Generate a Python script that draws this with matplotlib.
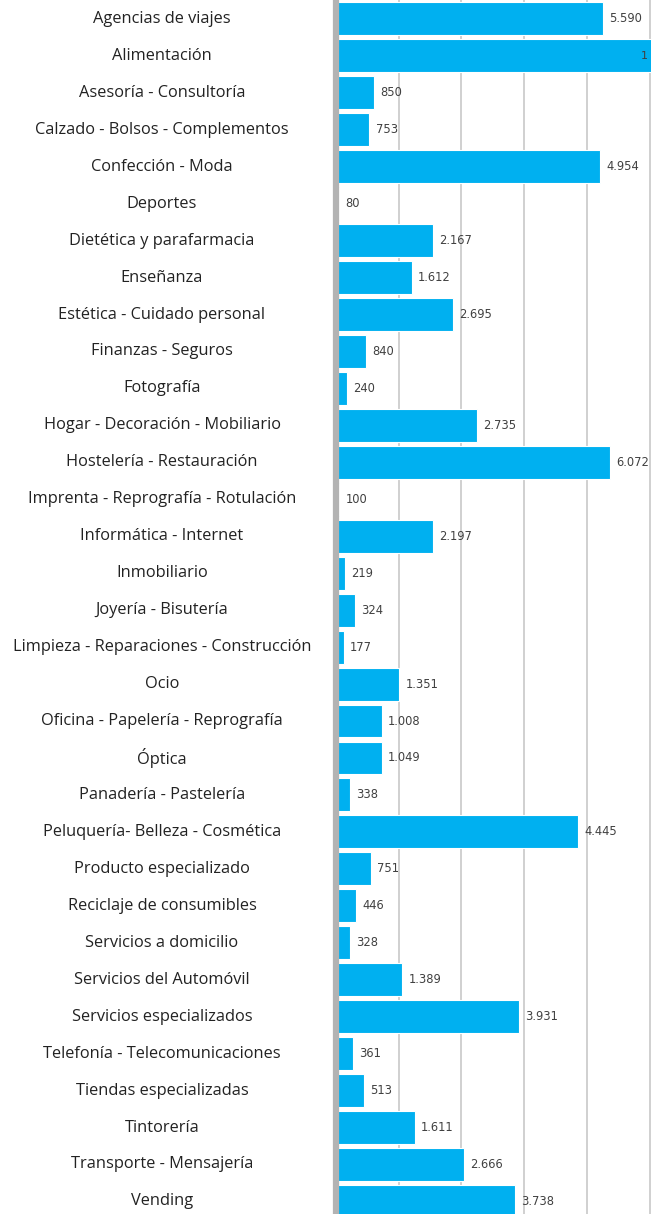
import matplotlib.pyplot as plt
import matplotlib.transforms as mtransforms
import numpy as np

# categorias, de arriba a abajo
categorias = [
    'Agencias de viajes', 'Alimentación', 'Asesoría - Consultoría',
    'Calzado - Bolsos - Complementos', 'Confección - Moda', 'Deportes',
    'Dietética y parafarmacia', 'Enseñanza', 'Estética - Cuidado personal',
    'Finanzas - Seguros', 'Fotografía', 'Hogar - Decoración - Mobiliario',
    'Hostelería - Restauración', 'Imprenta - Reprografía - Rotulación',
    'Informática - Internet', 'Inmobiliario', 'Joyería - Bisutería',
    'Limpieza - Reparaciones - Construcción', 'Ocio',
    'Oficina - Papelería - Reprografía', 'Óptica', 'Panadería - Pastelería',
    'Peluquería- Belleza - Cosmética', 'Producto especializado',
    'Reciclaje de consumibles', 'Servicios a domicilio',
    'Servicios del Automóvil', 'Servicios especializados',
    'Telefonía - Telecomunicaciones', 'Tiendas especializadas', 'Tintorería',
    'Transporte - Mensajería', 'Vending',
]

# valores mostrados en las etiquetas (Alimentación sale cortado: solo "1")
valores = [5590, None, 850, 753, 4954, 80, 2167, 1612, 2695, 840, 240, 2735,
           6072, 100, 2197, 219, 324, 177, 1351, 1008, 1049, 338, 4445, 751,
           446, 328, 1389, 3931, 361, 513, 1611, 2666, 3738]

# longitud de cada barra leida sobre la rejilla del grafico (1 linea = 1000)
longitud = [4257, 5400, 609, 535, 4205, 50, 1543, 1209, 1871, 482, 175, 2243,
            4364, 60, 1543, 153, 307, 127, 1012, 737, 737, 232, 3859, 557,
            328, 232, 1059, 2921, 280, 455, 1262, 2041, 2848]

W, H = 651, 1214
fig = plt.figure(figsize=(W / 100, H / 100), dpi=100)
x0 = 335.7
ax = fig.add_axes([x0 / W, 0, (W - x0) / W, 1])

y = np.arange(len(categorias))
ax.barh(y, longitud, height=0.89, color='#00B0F0', edgecolor='white',
        linewidth=0.8, zorder=2)

ax.set_xlim(0, 5016)
ax.set_ylim(32.34, -0.511)
ax.set_xticks([1000, 2000, 3000, 4000, 5000])
ax.grid(axis='x', color='#c3c3c3', linewidth=1.1)
ax.set_axisbelow(True)
ax.tick_params(left=False, bottom=False, labelleft=False, labelbottom=False)
for s in ['top', 'right', 'bottom']:
    ax.spines[s].set_visible(False)
ax.spines['left'].set_color('#b3b3b3')
ax.spines['left'].set_linewidth(4.5)
ax.spines['left'].set_zorder(3)

# etiquetas de valor
xmax = ax.get_xlim()[1]
for i, v in enumerate(valores):
    if v is None:
        ax.annotate('1', xy=(xmax, i), xytext=(-2, 0), textcoords='offset points',
                    ha='right', va='center', fontsize=8, color='#404040',
                    zorder=4)
    else:
        txt = f'{v:,}'.replace(',', '.')
        ax.annotate(txt, xy=(longitud[i], i), xytext=(4.5, 0),
                    textcoords='offset points', ha='left', va='center',
                    fontsize=8.3, color='#404040', zorder=4)

# nombres de categoria centrados a la izquierda
trans = mtransforms.blended_transform_factory(fig.transFigure, ax.transData)
for i, c in enumerate(categorias):
    ax.text(162 / W, i, c, transform=trans, ha='center', va='center',
            fontsize=11.8, family='Open Sans', color='#222222',
            clip_on=False)

fig.savefig('out.png', dpi=100)
